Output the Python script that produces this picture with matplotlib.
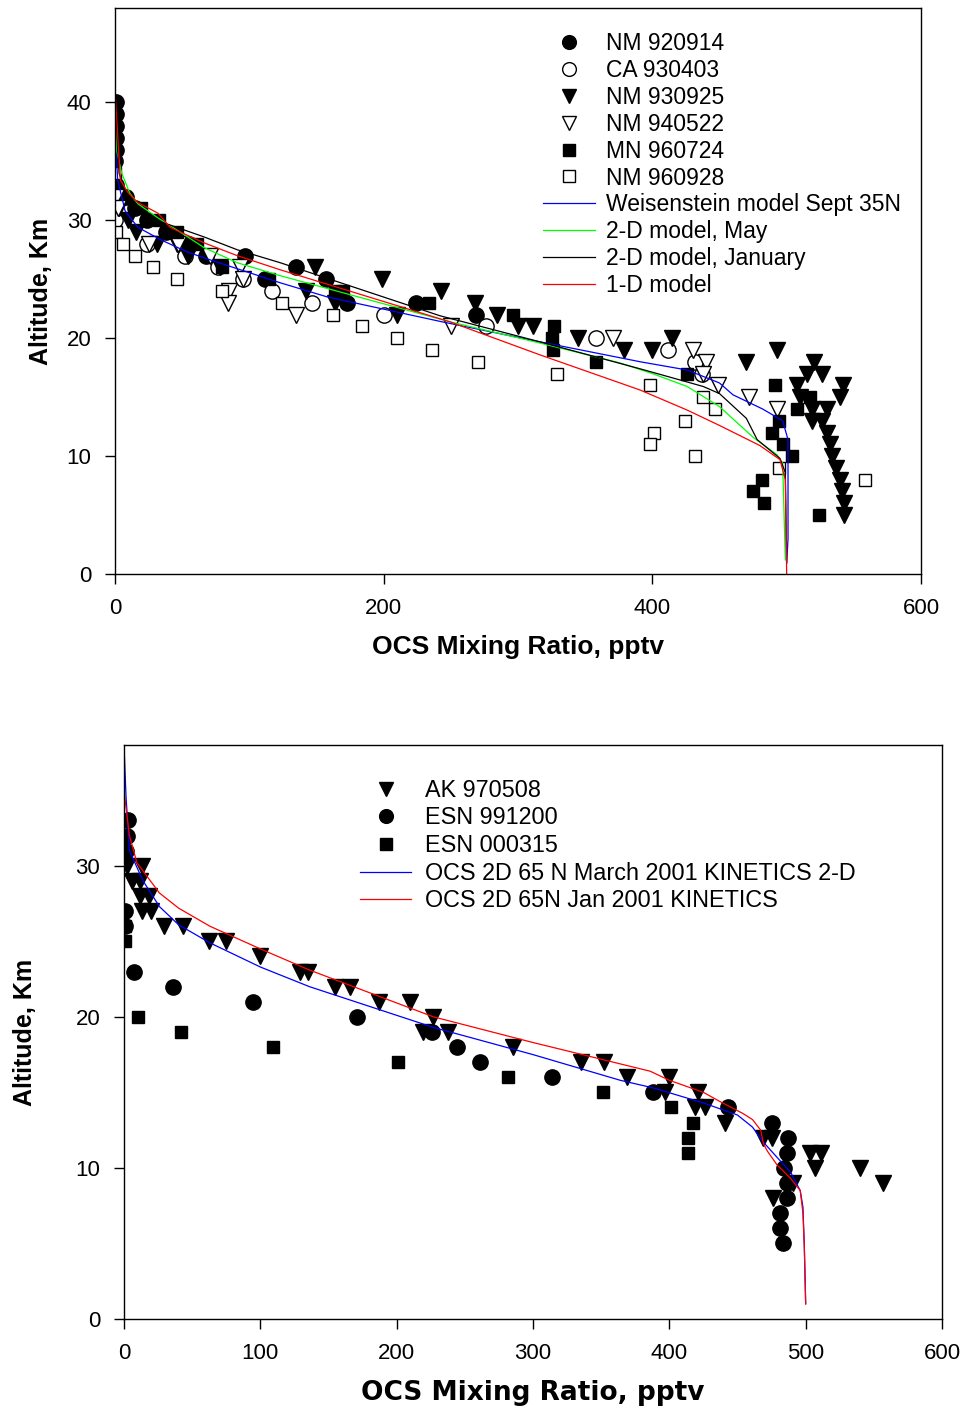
import matplotlib.pyplot as plt
import numpy as np

plt.rcParams['font.family'] = ['Liberation Sans', 'DejaVu Sans']

# ---- top panel data (x = OCS pptv, y = altitude km) ----
nm920914_x = [1, 1, 1, 1, 1, 0, 1, 8, 15, 24, 38, 55, 68, 97, 135, 112, 157, 173, 224, 269]
nm920914_y = [40, 39, 38, 37, 36, 35, 33, 32, 31, 30, 29, 28, 27, 27, 26, 25, 25, 23, 23, 22]

ca930403_x = [0, 24, 52, 77, 95, 117, 147, 200, 276, 358, 412, 432, 437]
ca930403_y = [30, 28, 27, 26, 25, 24, 23, 22, 21, 20, 19, 18, 17]

nm930925_x = [0, 3, 10, 16, 31, 46, 54, 78, 149, 199, 142, 243, 164, 268, 284, 210, 300, 311,
              345, 379, 400, 415, 470, 493, 520, 515, 526, 508, 542, 510, 540, 519, 530,
              519, 526, 530, 532, 534, 537, 540, 541, 543, 543]
nm930925_y = [32, 31, 30, 29, 28, 28, 27, 26, 26, 25, 24, 24, 23, 23, 22, 22, 21, 21,
              20, 19, 19, 20, 18, 19, 18, 17, 17, 16, 16, 15, 15, 14, 14,
              13, 13, 12, 11, 10, 9, 8, 7, 6, 5]

nm940522_x = [1, 2, 25, 47, 71, 93, 95, 85, 84, 135, 250, 371, 430, 440, 438, 449, 472, 493]
nm940522_y = [32, 31, 28, 28, 27, 26, 25, 24, 23, 22, 21, 20, 19, 18, 17, 16, 15, 14]

mn960724_x = [19, 33, 46, 61, 80, 115, 164, 170, 234, 296, 327, 325, 326, 358, 426, 491,
              517, 508, 494, 489, 497, 504, 482, 475, 483, 524]
mn960724_y = [31, 30, 29, 28, 26, 25, 24, 24, 23, 22, 21, 20, 19, 18, 17, 16,
              15, 14, 13, 12, 11, 10, 8, 7, 6, 5]

nm960928_x = [0, 1, 6, 15, 28, 46, 80, 124, 162, 184, 210, 236, 270, 329, 398, 438, 447,
              424, 401, 398, 432, 494, 558]
nm960928_y = [34, 29, 28, 27, 26, 25, 24, 23, 22, 21, 20, 19, 18, 17, 16, 15, 14,
              13, 12, 11, 10, 9, 8]

weis_x = [0, 0.3, 0.8, 2, 7.5, 17, 35, 54, 72, 123, 158, 243, 316, 391, 426, 450, 460, 482, 497, 501, 501, 500]
weis_y = [48, 40, 36, 33.4, 30.8, 29.4, 28.3, 27.3, 26.6, 24.7, 23.5, 21.4, 19.7, 18.0, 17.3, 16.2, 15.2, 14, 13, 11.4, 3, 0.9]

may_x = [0, 1, 5, 11, 17, 32, 54, 66, 91, 123, 249, 316, 376, 400, 426, 450, 475, 493, 497, 499]
may_y = [41, 36, 34, 32.3, 31.4, 30.2, 28.6, 27.7, 26.4, 25.3, 21.4, 19.6, 17.9, 17.0, 15.9, 14.2, 11.6, 10.1, 9.4, 1.2]

jan_x = [0, 3, 9, 16, 30, 41, 66, 91, 123, 242, 316, 391, 413, 438, 450, 470, 478, 495, 499, 500]
jan_y = [41, 34, 32, 31, 30, 29.6, 28.6, 27.5, 26.4, 21.9, 19.7, 17.4, 16.7, 15.9, 15.3, 13.2, 11.4, 9.8, 8.6, 1]

oned_x = [0, 4, 10, 17, 32, 41, 66, 91, 123, 249, 316, 391, 426, 450, 480, 495, 499, 500]
oned_y = [41, 33.4, 32.3, 31.5, 30.6, 29.4, 28.1, 27, 25.8, 21.4, 18.6, 15.6, 13.9, 12.6, 10.9, 9.7, 8, 0]

# ---- bottom panel data ----
ak970508_x = [2, 13, 6, 12, 12, 18, 13, 20, 29, 43, 62, 75, 100, 129, 135, 155, 166, 187, 210,
              227, 219, 238, 285, 335, 352, 369, 400, 397, 421, 419, 426, 441, 469, 475,
              503, 511, 507, 540, 557, 491, 476]
ak970508_y = [30, 30, 29, 29, 28, 28, 27, 27, 26, 26, 25, 25, 24, 23, 23, 22, 22, 21, 21,
              20, 19, 19, 18, 17, 17, 16, 16, 15, 15, 14, 14, 13, 12, 12,
              11, 11, 10, 10, 9, 9, 8]

esn991200_x = [3, 2, 1.5, 1, 1, 7, 36, 95, 171, 226, 244, 261, 314, 388, 443, 475, 487, 486,
               484, 486, 486, 481, 481, 483]
esn991200_y = [33, 32, 31, 27, 26, 23, 22, 21, 20, 19, 18, 17, 16, 15, 14, 13, 12, 11,
               10, 9, 8, 7, 6, 5]

esn000315_x = [1, 1, 10, 42, 109, 201, 282, 351, 401, 417, 414, 414]
esn000315_y = [26, 25, 20, 19, 18, 17, 16, 15, 14, 13, 12, 11]

mar_x = [0, 1.5, 4, 14, 26, 40, 63, 100, 136, 227, 300, 364, 388, 425, 450, 461, 469, 479,
         489, 496, 498, 499, 500]
mar_y = [38, 34.6, 31, 29, 27.3, 26.1, 24.9, 23.3, 22, 19.3, 17.5, 15.8, 15.3, 14.3, 13.5,
         12.7, 11.7, 10.7, 9.7, 8.5, 7.4, 4.8, 1]

jan65_x = [0.5, 4, 9.5, 26, 40, 63, 100, 136, 227, 300, 386, 400, 425, 437, 454, 461, 467,
           469, 472, 479, 489, 496, 498, 499, 500]
jan65_y = [34.6, 32, 30.2, 28.2, 27.2, 26, 24.5, 23.1, 20, 18.3, 16.4, 15.8, 15, 14.4, 13.6,
           13.2, 12.5, 11.6, 11.1, 10.2, 9.3, 8.5, 7, 4.8, 1]

fig = plt.figure(figsize=(9.64, 14.09), dpi=100)
ax1 = fig.add_axes([0.1193, 0.5926, 0.8361, 0.4017])
ax2 = fig.add_axes([0.1286, 0.0639, 0.8486, 0.4074])

ax1.plot(nm920914_x, nm920914_y, 'o', color='black', ms=11, label='NM 920914')
ax1.plot(ca930403_x, ca930403_y, 'o', mfc='white', mec='black', mew=1, ms=11, label='CA 930403')
ax1.plot(nm930925_x, nm930925_y, 'v', color='black', ms=11.5, label='NM 930925')
ax1.plot(nm940522_x, nm940522_y, 'v', mfc='white', mec='black', mew=1, ms=11.5, label='NM 940522')
ax1.plot(mn960724_x, mn960724_y, 's', color='black', ms=9, label='MN 960724')
ax1.plot(nm960928_x, nm960928_y, 's', mfc='white', mec='black', mew=1, ms=9, label='NM 960928')
ax1.plot(weis_x, weis_y, color='blue', lw=0.9, label='Weisenstein model Sept 35N')
ax1.plot(may_x, may_y, color='#00ff00', lw=0.9, label='2-D model, May')
ax1.plot(jan_x, jan_y, color='black', lw=0.9, label='2-D model, January')
ax1.plot(oned_x, oned_y, color='red', lw=0.9, label='1-D model')

ax1.set_xlim(0, 600)
ax1.set_ylim(0, 48)
ax1.set_xticks([0, 200, 400, 600])
ax1.set_yticks([0, 10, 20, 30, 40])
ax1.set_xlabel('OCS Mixing Ratio, pptv', fontsize=19, fontweight='bold', labelpad=12)
ax1.set_ylabel('Altitude, Km', fontsize=18, fontweight='bold', labelpad=10)
ax1.legend(loc='upper left', bbox_to_anchor=(0.531, 0.9576), frameon=False, fontsize=16.5,
           borderpad=0, borderaxespad=0, handlelength=2.27, handletextpad=0.5,
           labelspacing=0.17, markerscale=0.9)

ax2.plot(ak970508_x, ak970508_y, 'v', color='black', ms=11.5, label='AK 970508')
ax2.plot(esn991200_x, esn991200_y, 'o', color='black', ms=11, label='ESN 991200')
ax2.plot(esn000315_x, esn000315_y, 's', color='black', ms=9, label='ESN 000315')
ax2.plot(mar_x, mar_y, color='blue', lw=0.9, label='OCS 2D 65 N March 2001 KINETICS 2-D')
ax2.plot(jan65_x, jan65_y, color='red', lw=0.9, label='OCS 2D 65N Jan 2001 KINETICS')

ax2.set_xlim(0, 600)
ax2.set_ylim(0, 38)
ax2.set_xticks(np.arange(0, 601, 100))
ax2.set_yticks([0, 10, 20, 30])
ax2.set_xlabel('OCS Mixing Ratio, pptv', fontsize=19, fontweight='bold', family='DejaVu Sans', labelpad=12)
ax2.set_ylabel('Altitude, Km', fontsize=18, fontweight='bold', labelpad=28)
ax2.legend(loc='upper left', bbox_to_anchor=(0.2885, 0.941), frameon=False, fontsize=16.8,
           borderpad=0, borderaxespad=0, handlelength=2.2, handletextpad=0.6,
           labelspacing=0.2, markerscale=0.9)

for ax in (ax1, ax2):
    ax.tick_params(direction='out', length=7, width=1, labelsize=16, pad=10)
    for s in ax.spines.values():
        s.set_linewidth(1)

fig.savefig('out.png', dpi=100)
